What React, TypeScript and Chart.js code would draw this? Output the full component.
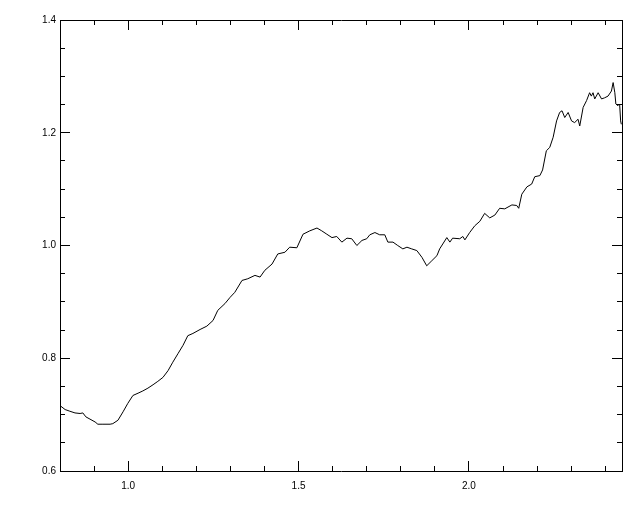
import React, { useEffect, useRef } from "react";
import { Chart, registerables } from "chart.js";

Chart.register(...registerables);

// Data
const xValues = [
  0.800, 0.815, 0.829, 0.844, 0.859, 0.867, 0.876, 0.888, 0.903, 0.911, 0.926, 0.947, 0.955, 0.970,
  0.985, 0.999, 1.014, 1.029, 1.043, 1.058, 1.073, 1.087, 1.102, 1.117, 1.131, 1.146, 1.161,
  1.175, 1.190, 1.211, 1.231, 1.249, 1.263, 1.284, 1.299, 1.313, 1.334, 1.351, 1.372, 1.387,
  1.401, 1.422, 1.439, 1.460, 1.474,
  1.495, 1.513, 1.533, 1.554, 1.568, 1.583, 1.598, 1.612, 1.627, 1.642, 1.656, 1.671, 1.686,
  1.700, 1.709, 1.724, 1.738, 1.753, 1.762, 1.777, 1.791, 1.806, 1.818, 1.832, 1.847, 1.862,
  1.876, 1.891, 1.906,
  1.914, 1.935, 1.944, 1.952, 1.973, 1.982, 1.988, 2.002, 2.017, 2.032, 2.046, 2.061, 2.076,
  2.090, 2.105, 2.126, 2.140, 2.146, 2.155, 2.170, 2.184, 2.193, 2.208,
  2.216, 2.227, 2.237, 2.247, 2.257, 2.266, 2.273, 2.281, 2.291, 2.301, 2.310, 2.320, 2.325,
  2.335, 2.345, 2.354, 2.359, 2.364, 2.369, 2.379, 2.389, 2.398, 2.408, 2.418, 2.423, 2.428,
  2.431, 2.437, 2.442, 2.445, 2.447,
];

const yValues = [
  0.716, 0.709, 0.706, 0.703, 0.702, 0.703, 0.696, 0.692, 0.687, 0.683, 0.683, 0.683, 0.684, 0.690,
  0.705, 0.720, 0.734, 0.738, 0.742, 0.747, 0.753, 0.759, 0.766, 0.778, 0.793, 0.808, 0.823,
  0.840, 0.844, 0.851, 0.857, 0.867, 0.885, 0.897, 0.908, 0.917, 0.938, 0.941, 0.947, 0.944,
  0.956, 0.967, 0.985, 0.988, 0.997,
  0.996, 1.020, 1.026, 1.031, 1.026, 1.020, 1.014, 1.016, 1.006, 1.013, 1.012, 1.000, 1.009,
  1.012, 1.019, 1.023, 1.019, 1.019, 1.006, 1.006, 1.000, 0.994, 0.997, 0.994, 0.991, 0.979,
  0.964, 0.973, 0.982,
  0.994, 1.014, 1.006, 1.013, 1.012, 1.016, 1.010, 1.023, 1.035, 1.043, 1.057, 1.049, 1.054,
  1.066, 1.065, 1.072, 1.071, 1.066, 1.091, 1.104, 1.109, 1.122, 1.124,
  1.134, 1.168, 1.174, 1.192, 1.221, 1.236, 1.239, 1.227, 1.236, 1.221, 1.218, 1.224, 1.212,
  1.245, 1.257, 1.271, 1.265, 1.271, 1.260, 1.271, 1.260, 1.262, 1.265, 1.274, 1.289, 1.271,
  1.251, 1.248, 1.251, 1.221, 1.215,
];

const X_MIN = 0.8;
const X_MAX = 2.449;
const Y_MIN = 0.6;
const Y_MAX = 1.4;

const xMajorTicks = [1.0, 1.5, 2.0];
const xTickLabels = ["1.0", "1.5", "2.0"];
const xMinorTicks = [0.9, 1.0, 1.1, 1.2, 1.3, 1.4, 1.5, 1.6, 1.7, 1.8, 1.9, 2.0, 2.1, 2.2, 2.3, 2.4];

const yMajorTicks = [0.6, 0.8, 1.0, 1.2, 1.4];
const yTickLabels = ["0.6", "0.8", "1.0", "1.2", "1.4"];
const yMinorTicks = [0.65, 0.7, 0.75, 0.85, 0.9, 0.95, 1.05, 1.1, 1.15, 1.25, 1.3, 1.35];

const FONT = { family: "'Liberation Sans', Arial, sans-serif", size: 10 };

function axis(opts: {
  horizontal: boolean;
  position: string;
  weight: number;
  size: number;
  ticksList: number[];
  tickLength: number;
  border: boolean;
  labels?: string[];
  padding?: number;
}) {
  const { horizontal, position, weight, size, ticksList, tickLength, border, labels, padding } = opts;
  return {
    type: "linear",
    position,
    weight,
    min: horizontal ? X_MIN : Y_MIN,
    max: horizontal ? X_MAX : Y_MAX,
    afterBuildTicks: (s: any) => {
      s.ticks = ticksList.map((v) => ({ value: v }));
    },
    afterFit: (s: any) => {
      if (horizontal) s.height = size;
      else s.width = size;
    },
    grid: {
      drawOnChartArea: false,
      drawTicks: true,
      tickLength,
      color: "#000",
      lineWidth: 1,
    },
    border: { display: border, color: "#000", width: 1 },
    ticks: labels
      ? {
          display: true,
          padding: padding ?? 0,
          color: "#000",
          font: FONT,
          maxRotation: 0,
          minRotation: 0,
          autoSkip: false,
          callback: (_v: any, i: number) => labels[i],
        }
      : { display: false },
  };
}

export default function App() {
  const ref = useRef<HTMLCanvasElement | null>(null);

  useEffect(() => {
    if (!ref.current) return;
    const points = xValues.map((x, i) => ({ x, y: yValues[i] }));
    const chart = new Chart(ref.current, {
      type: "line",
      data: {
        datasets: [
          {
            data: points,
            borderColor: "#000",
            borderWidth: 1,
            pointRadius: 0,
            tension: 0,
            fill: false,
            xAxisID: "x",
            yAxisID: "y",
          },
        ],
      },
      options: {
        responsive: false,
        animation: false,
        devicePixelRatio: 1,
        layout: { padding: 0 },
        plugins: { legend: { display: false }, tooltip: { enabled: false } },
        scales: {
          x: axis({ horizontal: true, position: "bottom", weight: 1, size: 41, ticksList: xMajorTicks, tickLength: -10, border: true, labels: xTickLabels, padding: 19 }),
          xMinor: axis({ horizontal: true, position: "bottom", weight: 0, size: 0, ticksList: xMinorTicks, tickLength: -5, border: false }),
          xTop: axis({ horizontal: true, position: "top", weight: 1, size: 19, ticksList: xMajorTicks, tickLength: -10, border: true }),
          xTopMinor: axis({ horizontal: true, position: "top", weight: 0, size: 0, ticksList: xMinorTicks, tickLength: -5, border: false }),
          y: axis({ horizontal: false, position: "left", weight: 1, size: 60, ticksList: yMajorTicks, tickLength: -10, border: true, labels: yTickLabels, padding: 14 }),
          yMinor: axis({ horizontal: false, position: "left", weight: 0, size: 0, ticksList: yMinorTicks, tickLength: -5, border: false }),
          yRight: axis({ horizontal: false, position: "right", weight: 1, size: 18, ticksList: yMajorTicks, tickLength: -10, border: true }),
          yRightMinor: axis({ horizontal: false, position: "right", weight: 0, size: 0, ticksList: yMinorTicks, tickLength: -5, border: false }),
        } as any,
      },
    } as any);
    return () => chart.destroy();
  }, []);

  return (
    <canvas
      ref={ref}
      width={640}
      height={512}
      style={{ position: "absolute", left: 0, top: 0, display: "block" }}
    />
  );
}
